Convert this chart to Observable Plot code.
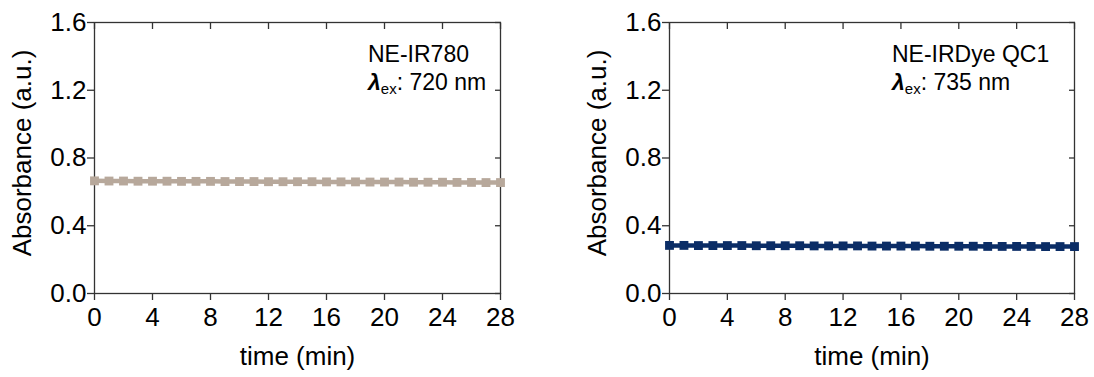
<!DOCTYPE html>
<html><head><meta charset="utf-8">
<script src="https://cdn.jsdelivr.net/npm/d3@7"></script>
<script src="https://cdn.jsdelivr.net/npm/@observablehq/plot@0.6"></script>
<style>
body{margin:0;background:#fff}
#wrap{display:flex;width:1094px;height:377px}
svg{display:block}
</style>
</head><body><div id="wrap"></div>
<script>
const timeMin = [0,1,2,3,4,5,6,7,8,9,10,11,12,13,14,15,16,17,18,19,20,21,22,23,24,25,26,27,28];
const absIR780 = [0.665,0.664,0.664,0.663,0.663,0.663,0.662,0.662,0.662,0.661,0.661,0.661,0.660,0.660,0.660,0.660,0.659,0.659,0.659,0.658,0.658,0.658,0.657,0.657,0.657,0.656,0.656,0.655,0.655];
const absQC1 = [0.284,0.284,0.283,0.283,0.283,0.283,0.282,0.282,0.282,0.282,0.281,0.281,0.281,0.281,0.280,0.280,0.280,0.280,0.279,0.279,0.279,0.279,0.278,0.278,0.278,0.278,0.277,0.277,0.277];
const xTicks = [0,4,8,12,16,20,24,28];
const yTicks = [0,0.4,0.8,1.2,1.6];
const panels = [
  {name: "NE-IR780", lambda: "720 nm", values: absIR780, color: "#b7a89b"},
  {name: "NE-IRDye QC1", lambda: "735 nm", values: absQC1, color: "#0b2d66"}
];
const layout = [
  {width: 547, marginLeft: 94, marginRight: 47, annX: 368},
  {width: 547, marginLeft: 122, marginRight: 20, annX: 345}
];
const FONT = "'Liberation Sans', Arial, Helvetica, sans-serif";
const INK = "#000";

panels.forEach((p, i) => {
  const L = layout[i];
  const data = timeMin.map((t, j) => ({t, a: p.values[j]}));
  const chart = Plot.plot({
    width: L.width, height: 377,
    marginLeft: L.marginLeft, marginRight: L.marginRight, marginTop: 22, marginBottom: 84,
    style: {fontFamily: FONT, fontSize: "25px", color: INK, background: "#fff"},
    x: {domain: [0, 28]},
    y: {domain: [0, 1.6]},
    marks: [
      Plot.frame({stroke: "#333", strokeWidth: 1.3}),
      Plot.axisX({ticks: xTicks, tickSize: 7, tickPadding: 7, fontSize: 26, tickFormat: d => String(d), label: null, stroke: "#333", strokeWidth: 1.3}),
      Plot.axisX({anchor: "top", ticks: xTicks, tickSize: -6, tickFormat: () => "", label: null, stroke: "#333", strokeWidth: 1.3}),
      Plot.axisY({ticks: yTicks, tickSize: 7, tickPadding: 1, fontSize: 26, tickFormat: d3.format(".1f"), label: null, stroke: "#333", strokeWidth: 1.3}),
      Plot.axisY({anchor: "right", ticks: yTicks, tickSize: -6, tickFormat: () => "", label: null, stroke: "#333", strokeWidth: 1.3}),
      Plot.text(["Absorbance (a.u.)"], {frameAnchor: "left", textAnchor: "middle", dx: -72, dy: -5, rotate: -90, fontSize: 26, lineAnchor: "middle", fill: INK}),
      Plot.text(["time (min)"], {frameAnchor: "bottom", textAnchor: "middle", dy: 63, fontSize: 26, lineAnchor: "middle", fill: INK}),
      Plot.line(data, {x: "t", y: "a", stroke: p.color, strokeWidth: 4.5}),
      Plot.dot(data, {x: "t", y: "a", symbol: "square", r: 5, fill: p.color, stroke: "none"})
    ]
  });
  const svg = d3.select(chart);
  const g = svg.append("g").attr("font-family", FONT).attr("fill", INK).attr("text-anchor", "start");
  g.append("text").attr("x", L.annX).attr("y", 62).attr("font-size", 23).text(p.name);
  const t2 = g.append("text").attr("x", L.annX).attr("y", 90).attr("font-size", 23);
  t2.append("tspan").attr("font-weight", "bold").attr("font-style", "italic").text("λ");
  t2.append("tspan").attr("font-size", 15).attr("dy", 4).text("ex");
  t2.append("tspan").attr("dy", -4).text(": " + p.lambda);
  document.getElementById("wrap").appendChild(chart);
});
</script>
</body></html>
